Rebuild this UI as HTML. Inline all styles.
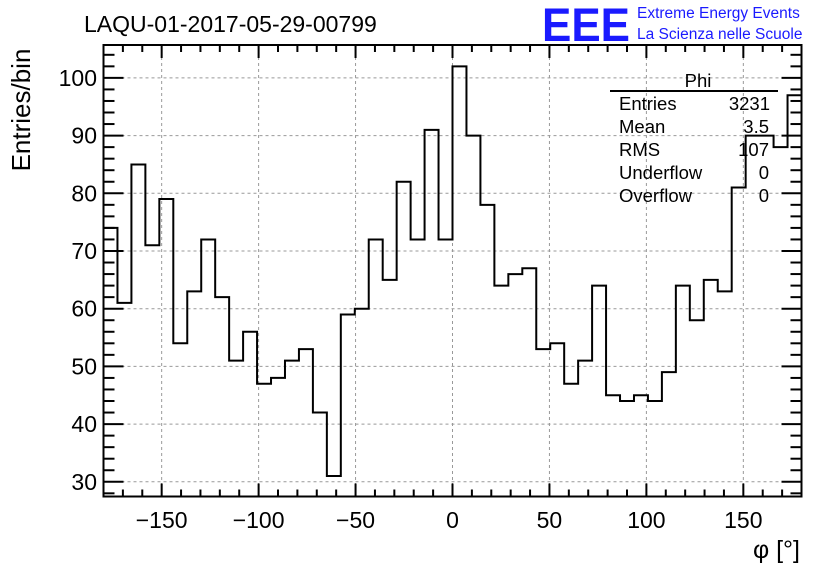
<!DOCTYPE html>
<html><head><meta charset="utf-8"><style>
html,body{margin:0;padding:0;background:#fff;}
svg{display:block;font-family:"Liberation Sans",sans-serif;}
</style></head><body>
<svg id="c" width="836" height="572" viewBox="0 0 836 572">
<rect width="836" height="572" fill="#fff"/>
<text x="84" y="32" font-size="23">LAQU-01-2017-05-29-00799</text>
<text x="542" y="41" font-size="47" font-weight="bold" fill="#1a1aff" textLength="88" lengthAdjust="spacingAndGlyphs">EEE</text>
<text x="637" y="18" font-size="15.5" fill="#1a1aff">Extreme Energy Events</text>
<text x="637" y="39" font-size="15.5" fill="#1a1aff">La Scienza nelle Scuole</text>
<text transform="translate(30,110) rotate(-90)" text-anchor="middle" font-size="26">Entries/bin</text>
<text x="800" y="558" text-anchor="end" font-size="25">φ [°]</text>
<g id="grid"></g>
<g id="hist"></g>
<g id="axes"></g>
<g>
<text x="698" y="87" text-anchor="middle" font-size="18.5">Phi</text>
<line x1="610" y1="91" x2="778" y2="91" stroke="#000" stroke-width="2"/>
<g font-size="18.5">
<text x="619" y="110">Entries</text><text x="770" y="110" text-anchor="end">3231</text>
<text x="619" y="133">Mean</text><text x="769" y="133" text-anchor="end">3.5</text>
<text x="619" y="156">RMS</text><text x="769" y="156" text-anchor="end">107</text>
<text x="619" y="179">Underflow</text><text x="769" y="179" text-anchor="end">0</text>
<text x="619" y="202">Overflow</text><text x="769" y="202" text-anchor="end">0</text>
</g></g>
</svg>
<script>
const binLow = -180, binWidth = 7.2;
const counts = [74,61,85,71,79,54,63,72,62,51,56,47,48,51,53,42,31,59,60,72,65,82,72,91,72,
                102,90,78,64,66,67,53,54,47,51,64,45,44,45,44,49,64,58,65,63,81,90,90,88,97];
const xTicks = [-150,-100,-50,0,50,100,150];
const xTickLabels = ["\u2212150","\u2212100","\u221250","0","50","100","150"];
const yTicks = [30,40,50,60,70,80,90,100];
const yTickLabels = ["30","40","50","60","70","80","90","100"];
const L=103.5,R=801.5,T=45,B=496.5, xmin=-180,xmax=180, ymin=27.45,ymax=105.7;
const X=v=>L+(v-xmin)/(xmax-xmin)*(R-L);
const Y=v=>B-(v-ymin)/(ymax-ymin)*(B-T);
const NS="http://www.w3.org/2000/svg";
function mk(tag,attrs,parent){const e=document.createElementNS(NS,tag);for(const k in attrs)e.setAttribute(k,attrs[k]);parent.appendChild(e);return e;}
const grid=document.getElementById('grid'),hist=document.getElementById('hist'),axes=document.getElementById('axes');
xTicks.forEach(t=>{const l=mk('line',{x1:X(t),x2:X(t),y1:T,y2:B,stroke:'#999','stroke-dasharray':'3,3','stroke-width':1},grid);

});
yTicks.forEach(t=>{const l=mk('line',{x1:L,x2:R,y1:Y(t),y2:Y(t),stroke:'#999','stroke-dasharray':'3,3','stroke-width':1},grid);

});
let d='M'+X(binLow)+','+Y(counts[0]);
counts.forEach((c,i)=>{const x0=X(binLow+i*binWidth),x1=X(binLow+(i+1)*binWidth);d+=' L'+x0+','+Y(c)+' L'+x1+','+Y(c);});
const p=mk('path',{d:d,fill:'none',stroke:'#000','stroke-width':2},hist);


const fr=mk('rect',{x:L,y:T,width:R-L,height:B-T,fill:'none',stroke:'#000','stroke-width':2},axes);


for(let v=-180;v<=180;v+=10){const maj=v%50===0;const len=maj?13:7;
mk('line',{x1:X(v),x2:X(v),y1:B,y2:B-len,stroke:'#000','stroke-width':2},axes);
mk('line',{x1:X(v),x2:X(v),y1:T,y2:T+len,stroke:'#000','stroke-width':2},axes);}
for(let v=28;v<=104;v+=2){const maj=v%10===0;const len=maj?20:11;
mk('line',{x1:L,x2:L+len,y1:Y(v),y2:Y(v),stroke:'#000','stroke-width':2},axes);
mk('line',{x1:R,x2:R-len,y1:Y(v),y2:Y(v),stroke:'#000','stroke-width':2},axes);}
xTicks.forEach((t,i)=>{const e=mk('text',{x:X(t),y:528,'text-anchor':'middle','font-size':23},axes);e.textContent=xTickLabels[i];

});
yTicks.forEach((t,i)=>{const e=mk('text',{x:97,y:Y(t)+8,'text-anchor':'end','font-size':23},axes);e.textContent=yTickLabels[i];

});
</script>
</body></html>
